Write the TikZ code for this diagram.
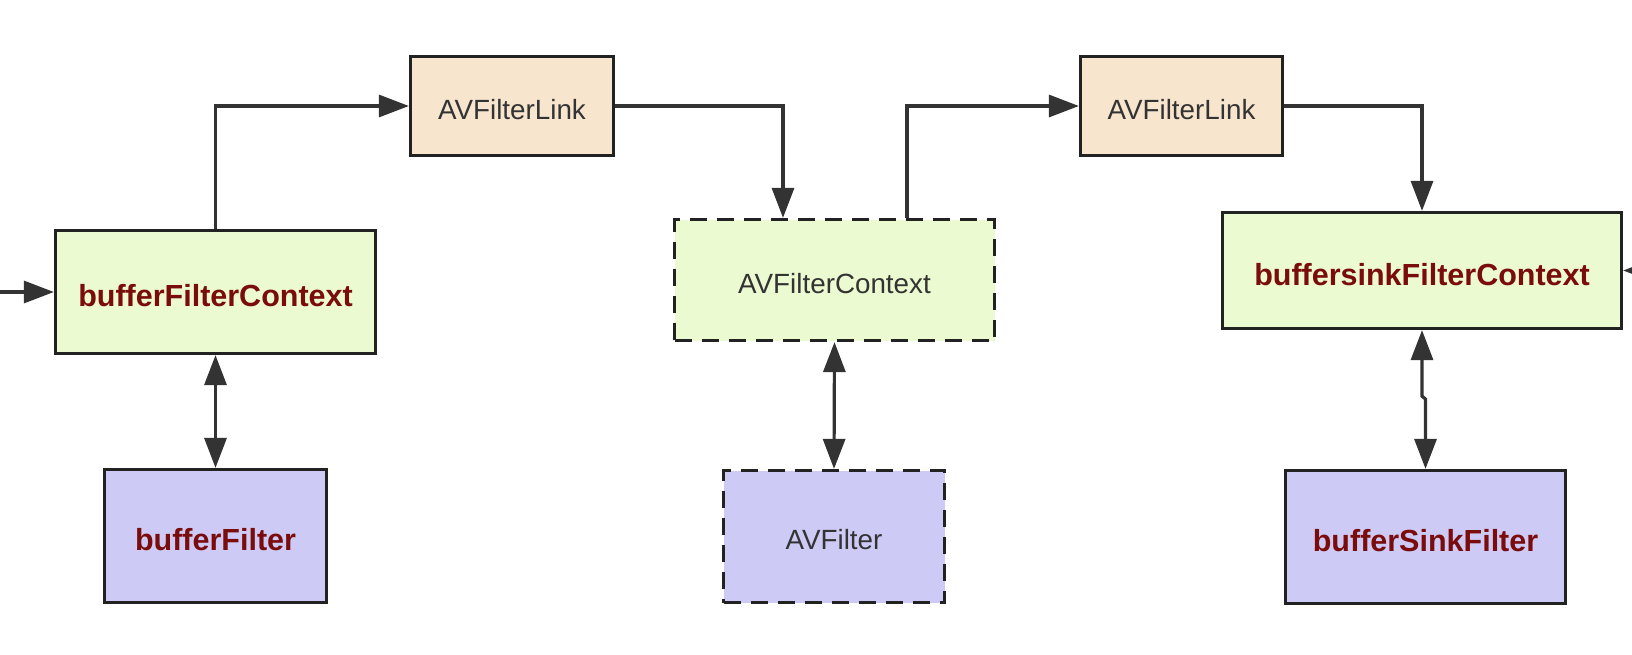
\documentclass[tikz,border=0pt]{standalone}
\usepackage{fontspec}
\setmainfont{Liberation Sans}
\usetikzlibrary{arrows.meta}
\definecolor{ctxgreen}{HTML}{EBFAD0}
\definecolor{linkbeige}{HTML}{F7E5CD}
\definecolor{filtpurple}{HTML}{CDCAF6}
\definecolor{darkred}{HTML}{7A0C0C}
\definecolor{linegray}{HTML}{333333}
\definecolor{bordergray}{HTML}{222222}
\tikzset{
  box/.style={draw=bordergray, line width=3.2pt, rectangle, inner sep=0pt, align=center},
  dbox/.style={box, dash pattern=on 17pt off 10pt},
  boldlabel/.style={text=darkred, font=\fontsize{30.5}{36}\selectfont\bfseries, text height=29pt, text depth=0pt},
  plainlabel/.style={text=linegray, font=\fontsize{27.8}{33}\selectfont, text height=26pt, text depth=0pt},
  arr/.style={draw=linegray, line width=3.2pt, -{Triangle[length=30pt,width=22pt]}},
  darr/.style={draw=linegray, line width=3.2pt, {Triangle[length=30pt,width=22pt]}-{Triangle[length=30pt,width=22pt]}}
}
\begin{document}
\begin{tikzpicture}[x=1pt,y=-1pt]
\clip (0,0) rectangle (1632,654);
\fill[white] (0,0) rectangle (1632,654);

\node[box, fill=ctxgreen, minimum width=320pt, minimum height=123pt, boldlabel] (bfc) at (215.5,292) {bufferFilterContext};
\node[box, fill=linkbeige, minimum width=203pt, minimum height=99pt, plainlabel] (link1) at (512,106) {AVFilterLink};
\node[dbox, fill=ctxgreen, minimum width=320pt, minimum height=121pt, plainlabel] (avctx) at (834.5,280) {AVFilterContext};
\node[box, fill=linkbeige, minimum width=202pt, minimum height=99pt, plainlabel] (link2) at (1181.5,106) {AVFilterLink};
\node[box, fill=ctxgreen, minimum width=399pt, minimum height=116pt, boldlabel] (bsfc) at (1422,270.5) {buffersinkFilterContext};
\node[box, fill=filtpurple, minimum width=222pt, minimum height=133pt, boldlabel] (bf) at (215.5,536) {bufferFilter};
\node[dbox, fill=filtpurple, minimum width=221pt, minimum height=132pt, plainlabel] (avf) at (834,536.5) {AVFilter};
\node[box, fill=filtpurple, minimum width=280pt, minimum height=133pt, boldlabel] (bsf) at (1425.5,537) {bufferSinkFilter};

\coordinate (in) at (-10,292);
\coordinate (out) at (1680,270.5);

\draw[arr] (in) -- (bfc.west);
\draw[arr] (bfc.north) |- (link1.west);
\draw[arr] (link1.east) -| ([xshift=-51.5pt]avctx.north);
\draw[arr] ([xshift=72.5pt]avctx.north) |- (link2.west);
\draw[arr] (link2.east) -| (bsfc.north);
\draw[arr] (out) -- (bsfc.east);

\draw[darr] (bfc.south) -- (bf.north);
\draw[darr] (avctx.south) -- (avf.north);
\draw[darr] (bsfc.south) -- ++(0,66) -- ++(3.5,3) -- (bsf.north);
\end{tikzpicture}
\end{document}
